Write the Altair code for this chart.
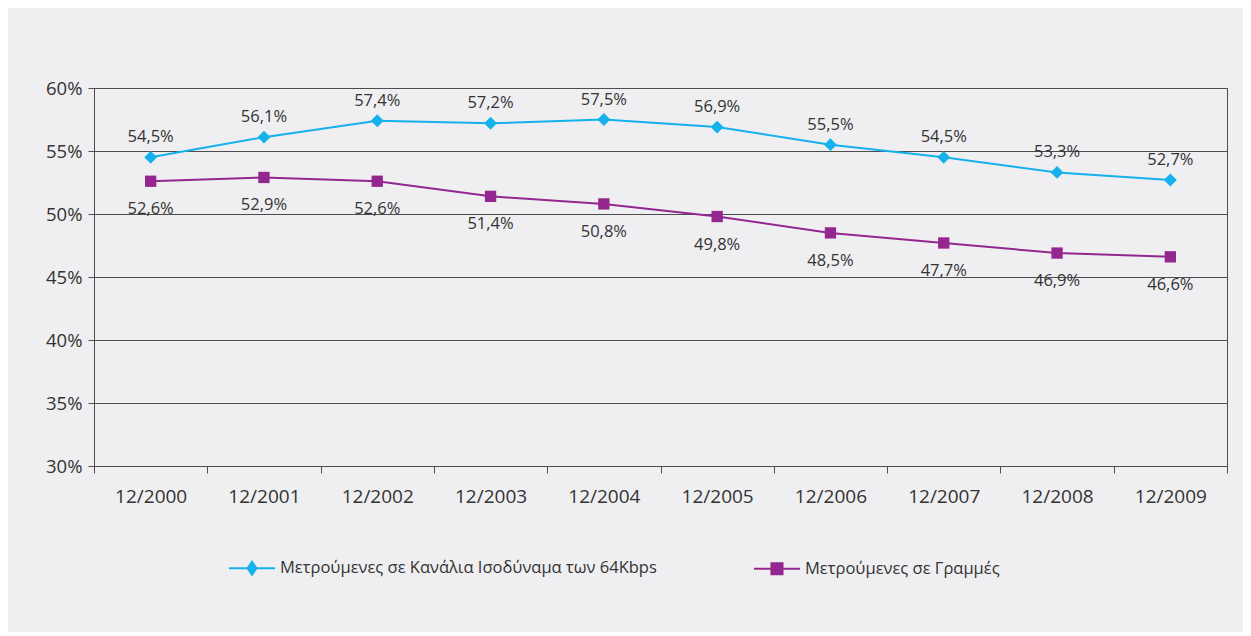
import altair as alt
import pandas as pd

years = ["12/2000", "12/2001", "12/2002", "12/2003", "12/2004",
         "12/2005", "12/2006", "12/2007", "12/2008", "12/2009"]
series_names = ["Μετρούμενες σε Κανάλια Ισοδύναμα των 64Kbps",
                "Μετρούμενες σε Γραμμές"]
channels_64k = [54.5, 56.1, 57.4, 57.2, 57.5, 56.9, 55.5, 54.5, 53.3, 52.7]
lines_pct = [52.6, 52.9, 52.6, 51.4, 50.8, 49.8, 48.5, 47.7, 46.9, 46.6]
colors = ["#14b1ec", "#93278f"]
y_ticks = [30, 35, 40, 45, 50, 55, 60]

rows = []
for i, yr in enumerate(years):
    rows.append({"year": yr, "series": series_names[0], "value": channels_64k[i]})
    rows.append({"year": yr, "series": series_names[1], "value": lines_pct[i]})
df = pd.DataFrame(rows)

FONT = "Open Sans"
TXT = "#333333"
GRID = "#4d4d4d"

color_scale = alt.Scale(domain=series_names, range=colors)

x_enc = alt.X("year:N", sort=years, bandPosition=0.5,
              scale=alt.Scale(type="band", paddingInner=0, paddingOuter=0),
              axis=alt.Axis(title=None, labelAngle=0, tickBand="extent",
                            domainColor=GRID, tickColor=GRID, tickSize=7,
                            labelPadding=14, labelFont=FONT, labelFontSize=19,
                            labelColor=TXT, grid=False))
y_enc = alt.Y("value:Q",
              scale=alt.Scale(domain=[30, 60], nice=False, zero=False),
              axis=alt.Axis(title=None, values=y_ticks,
                            labelExpr="datum.value + '%'",
                            grid=True, gridColor=GRID, gridWidth=1,
                            domainColor=GRID, tickColor=GRID, tickSize=6,
                            labelPadding=6, labelFont=FONT, labelFontSize=18.5,
                            labelColor=TXT))

base = alt.Chart(df).encode(x=x_enc, y=y_enc)

col = alt.Color("series:N", scale=color_scale, title=None)

line = base.mark_line(strokeWidth=2).encode(color=col)

pts_blue = base.transform_filter(alt.datum.series == series_names[0]).mark_point(
    shape="diamond", filled=True, size=165, opacity=1).encode(color=col)

pts_purple = base.transform_filter(alt.datum.series == series_names[1]).mark_point(
    shape="square", filled=True, size=128, opacity=1).encode(color=col)

label_expr = "replace(format(datum.value, '.1f'), '.', ',') + '%'"

txt_blue = base.transform_filter(alt.datum.series == series_names[0]).transform_calculate(
    lab=label_expr).mark_text(font=FONT, fontSize=16.5, color=TXT, dy=-20,
                              baseline="middle").encode(text="lab:N")

txt_purple = base.transform_filter(alt.datum.series == series_names[1]).transform_calculate(
    lab=label_expr).mark_text(font=FONT, fontSize=16.5, color=TXT, dy=28,
                              baseline="middle").encode(text="lab:N")

leg_paths = ["M-1,0L1,0M0,-0.28L0.196,0L0,0.28L-0.196,0Z",
             "M-1,0L1,0M-0.24,-0.24L0.24,-0.24L0.24,0.24L-0.24,0.24Z"]

legend_layer = base.transform_filter("datum.value < 0").mark_point(
    filled=True, strokeWidth=2, opacity=1).encode(
    color=col,
    stroke=alt.Stroke("series:N", scale=alt.Scale(domain=series_names, range=colors),
                      title=None),
    shape=alt.Shape("series:N", scale=alt.Scale(domain=series_names, range=leg_paths),
                    title=None))

chart = alt.layer(line, pts_blue, pts_purple, txt_blue, txt_purple, legend_layer).properties(
    width=1133, height=378,
    background="#efeff1",
    padding={"left": 86, "top": 80, "right": 16, "bottom": 166},
    autosize=alt.AutoSizeParams(type="none"),
).configure_view(stroke=GRID, strokeWidth=1).configure_legend(
    orient="none", legendX=134, legendY=456, direction="horizontal",
    symbolSize=2116, symbolStrokeWidth=2, labelLimit=800,
    labelFont=FONT, labelFontSize=16.5,
    labelColor=TXT, labelOffset=4, columnPadding=93, padding=0)

chart.save("out.html", embed_options={"renderer": "svg", "actions": False})
